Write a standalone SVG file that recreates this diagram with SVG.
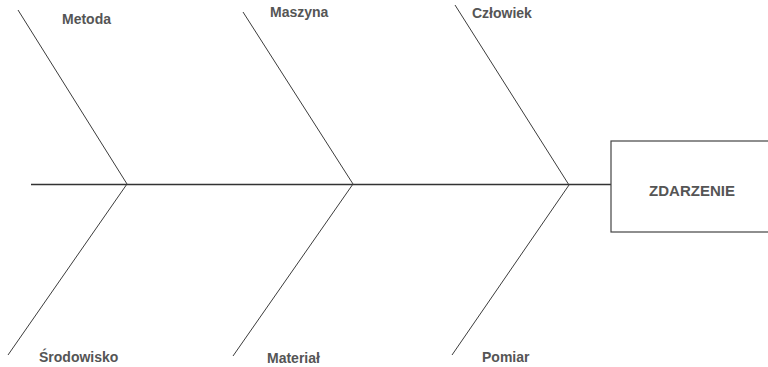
<svg xmlns="http://www.w3.org/2000/svg" width="768" height="367" viewBox="0 0 768 367">
<style>
.ln{stroke:#3c3c3c;stroke-width:1;fill:none}
.sp{stroke:#333;stroke-width:1.4;fill:none}
.lbl{font-family:"Liberation Sans",Arial,sans-serif;font-size:14px;font-weight:bold;fill:#555}
.box{fill:#fff;stroke:#444;stroke-width:1.2}
</style>
<rect width="768" height="367" fill="#fff"/>
<g id="connectors">
<line class="sp" x1="31" y1="184.5" x2="611" y2="184.5"/>
<polyline class="ln" points="18,10 127,184 8,355"/>
<polyline class="ln" points="243,12 353,184 233,356"/>
<polyline class="ln" points="455,5 569,185 452,355"/>
</g>
<g id="zdarzenie">
<rect class="box" x="611" y="141" width="160" height="91"/>
<text class="lbl" x="692" y="196" text-anchor="middle" style="font-size:15px">ZDARZENIE</text>
</g>
<g id="metoda"><text class="lbl" x="62" y="24">Metoda</text></g>
<g id="maszyna"><text class="lbl" x="270" y="17">Maszyna</text></g>
<g id="czlowiek"><text class="lbl" x="472" y="18">Człowiek</text></g>
<g id="srodowisko"><text class="lbl" x="39" y="362">Środowisko</text></g>
<g id="material"><text class="lbl" x="267" y="363">Materiał</text></g>
<g id="pomiar"><text class="lbl" x="482" y="362">Pomiar</text></g>
</svg>
